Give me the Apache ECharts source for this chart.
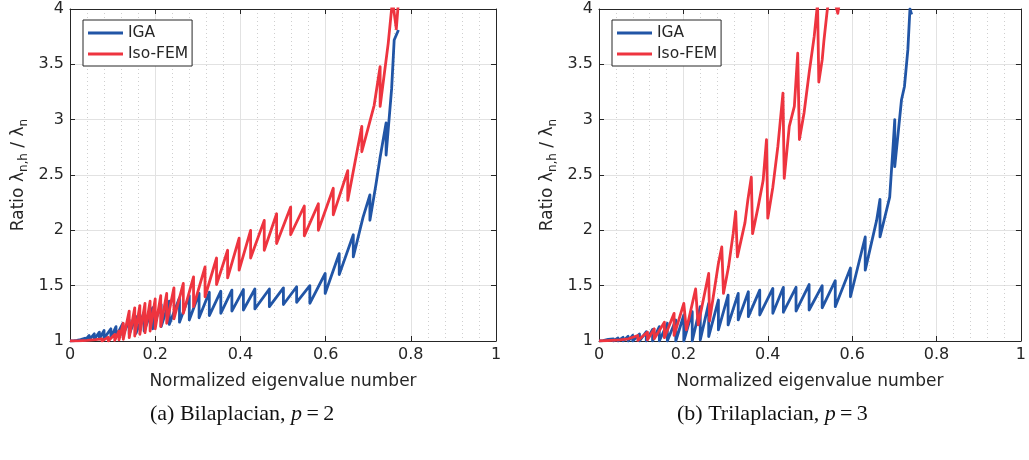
<!DOCTYPE html>
<html>
<head>
<meta charset="utf-8">
<script src="https://cdn.jsdelivr.net/npm/echarts@6.0.0/dist/echarts.min.js"></script>
<style>html,body{margin:0;padding:0;background:#fff}#c{width:1029px;height:460px}</style>
</head>
<body>
<div id="c"></div>
<script>
// ---------- tick labels ----------
const xTickLabels = ['0', '0.2', '0.4', '0.6', '0.8', '1'];
const yTickLabels = ['1', '1.5', '2', '2.5', '3', '3.5', '4'];
const seriesNames = ['IGA', 'Iso-FEM'];
const captions = ['(a) Bilaplacian, ', '(b) Trilaplacian, '];
const captionP = ['\u2009=\u20092', '\u2009=\u20093'];

// ---------- (a) Bilaplacian, p = 2 : IGA ----------
const igaA_x = [0,
  0.008,0.008,0.016,0.016,0.025,0.025,0.035,0.035,0.045,0.045,0.057,0.057,0.069,0.069,0.080,0.080,
  0.096,0.096,0.108,0.108,0.124,0.124,0.139,0.139,0.155,0.155,0.174,0.174,0.194,0.194,0.214,0.214,
  0.233,0.233,0.257,0.257,0.280,0.280,0.303,0.303,0.327,0.327,0.354,0.354,0.380,0.380,0.407,0.407,
  0.434,0.434,0.468,0.468,0.501,0.501,0.532,0.532,0.563,0.563,0.599,0.599,0.632,0.632,0.665,0.665,
  0.688,0.704,0.704,0.718,0.728,0.742,0.742,0.755,0.761,0.771];
const igaA_y = [1,
  1.002,1.0,1.006,1.0,1.012,1.0,1.025,1.005,1.05,1.01,1.065,1.015,1.08,1.02,1.095,1.025,
  1.11,1.03,1.13,1.04,1.16,1.05,1.19,1.06,1.22,1.07,1.26,1.09,1.30,1.11,1.33,1.13,
  1.36,1.15,1.39,1.17,1.41,1.19,1.43,1.21,1.44,1.23,1.45,1.25,1.46,1.27,1.465,1.28,
  1.47,1.29,1.47,1.31,1.48,1.33,1.49,1.35,1.50,1.34,1.61,1.43,1.79,1.60,1.96,1.76,
  2.12,2.32,2.09,2.41,2.66,2.97,2.68,3.28,3.72,3.81];

// ---------- (a) Bilaplacian, p = 2 : Iso-FEM ----------
const femA_x = [0,
  0.02,0.02,0.04,0.04,0.06,0.06,0.075,0.075,0.09,0.09,0.105,0.105,0.115,0.115,0.125,0.125,
  0.139,0.139,0.152,0.152,0.164,0.164,0.176,0.176,0.188,0.188,0.200,0.200,0.213,0.213,0.227,0.227,
  0.244,0.244,0.266,0.266,0.290,0.290,0.317,0.317,0.344,0.344,0.370,0.370,0.397,0.397,0.424,0.424,
  0.456,0.456,0.485,0.485,0.518,0.518,0.550,0.550,0.583,0.583,0.618,0.618,0.652,0.652,0.685,0.685,
  0.714,0.728,0.728,0.747,0.757,0.766,0.772];
const femA_y = [1,
  1.002,1.0,1.006,1.0,1.012,1.0,1.02,1.0,1.035,1.0,1.06,1.005,1.09,1.01,1.16,1.015,
  1.27,1.03,1.30,1.045,1.32,1.06,1.34,1.075,1.36,1.09,1.38,1.11,1.41,1.13,1.43,1.16,
  1.48,1.20,1.52,1.25,1.58,1.31,1.67,1.40,1.75,1.51,1.82,1.57,1.93,1.64,2.00,1.75,
  2.09,1.82,2.15,1.88,2.21,1.96,2.22,1.95,2.24,2.00,2.38,2.14,2.54,2.27,2.94,2.71,
  3.13,3.48,3.12,3.69,4.08,3.82,4.12];

// ---------- (b) Trilaplacian, p = 3 : IGA ----------
const igaB_x = [0,
  0.010,0.010,0.022,0.022,0.034,0.034,0.045,0.045,0.057,0.057,0.069,0.069,0.080,0.080,0.096,0.096,
  0.112,0.112,0.127,0.127,0.143,0.143,0.162,0.162,0.182,0.182,0.201,0.201,0.221,0.221,0.240,0.240,
  0.260,0.260,0.283,0.283,0.306,0.306,0.330,0.330,0.354,0.354,0.381,0.381,0.412,0.412,0.437,0.437,
  0.467,0.467,0.498,0.498,0.529,0.529,0.560,0.560,0.596,0.596,0.631,0.631,0.658,0.666,0.666,
  0.689,0.697,0.701,0.701,0.717,0.724,0.732,0.737,0.741];
const igaB_y = [1,
  1.003,1.0,1.015,1.0,1.02,1.0,1.027,1.0,1.033,1.0,1.042,1.0,1.051,1.0,1.063,1.0,
  1.084,1.0,1.105,1.0,1.13,1.0,1.16,1.0,1.19,1.0,1.235,1.0,1.265,1.0,1.31,1.01,
  1.34,1.04,1.37,1.10,1.415,1.145,1.43,1.19,1.445,1.22,1.46,1.235,1.475,1.25,1.485,1.26,
  1.485,1.27,1.51,1.28,1.50,1.30,1.545,1.31,1.66,1.40,1.94,1.64,2.09,2.28,1.94,
  2.30,2.76,3.0,2.575,3.18,3.30,3.63,4.0,3.95];

// ---------- (b) Trilaplacian, p = 3 : Iso-FEM ----------
const femB_x = [0,
  0.03,0.03,0.05,0.05,0.07,0.07,0.092,0.092,0.115,0.115,0.131,0.131,0.155,0.155,0.178,0.178,
  0.201,0.207,0.229,0.235,0.260,0.262,0.283,0.291,0.295,0.307,0.318,0.324,0.328,
  0.346,0.353,0.361,0.364,0.377,0.389,0.397,0.400,0.412,0.424,0.436,0.439,
  0.451,0.463,0.471,0.475,0.486,0.498,0.510,0.518,0.521,0.529,0.533,0.541,0.550,0.566,0.575];
const femB_y = [1,
  1.005,1.0,1.01,1.0,1.02,1.005,1.05,1.005,1.08,1.01,1.11,1.02,1.17,1.03,1.25,1.05,
  1.34,1.10,1.47,1.145,1.61,1.18,1.70,1.85,1.43,1.67,1.97,2.17,1.76,
  2.07,2.28,2.48,1.97,2.21,2.45,2.82,2.11,2.39,2.76,3.24,2.47,
  2.94,3.12,3.60,2.82,3.06,3.42,3.75,4.05,3.34,3.54,3.71,3.99,4.2,3.96,4.2];

// ---------- styling ----------
const AX = '#262626';
const FONT = 'DejaVu Sans';
const BLUE = '#2155a6';
const RED = '#ee343f';
const grids = [
  {left: 70, top: 9, width: 426, height: 332},
  {left: 599, top: 9, width: 426, height: 332}
];

function pts(xs, ys) { return xs.map((x, i) => [x, ys[i]]); }

const xAxes = [], yAxes = [];
grids.forEach((g, gi) => {
  xAxes.push({
    type: 'value', gridIndex: gi, min: 0, max: 1, interval: 0.2, position: 'bottom',
    axisLine: {show: true, onZero: false, lineStyle: {color: AX, width: 1}},
    axisTick: {show: true, inside: true, length: 5, lineStyle: {color: AX}},
    axisLabel: {color: AX, fontFamily: FONT, fontSize: 16, margin: 6,
      formatter: v => xTickLabels[Math.round(v / 0.2)]},
    splitLine: {show: true, lineStyle: {color: '#e2e2e2', width: 1}},
    minorTick: {show: false, splitNumber: 5},
    minorSplitLine: {show: true, lineStyle: {color: '#cfcfcf', width: 1, type: [1, 3]}},
    name: 'Normalized eigenvalue number', nameLocation: 'middle', nameGap: 32,
    nameTextStyle: {color: AX, fontFamily: FONT, fontSize: 17}
  });
  xAxes.push({
    type: 'value', gridIndex: gi, min: 0, max: 1, interval: 0.2, position: 'top',
    axisLine: {show: true, onZero: false, lineStyle: {color: AX, width: 1}},
    axisTick: {show: true, inside: true, length: 5, lineStyle: {color: AX}},
    axisLabel: {show: false}, splitLine: {show: false}
  });
  yAxes.push({
    type: 'value', gridIndex: gi, min: 1, max: 4, interval: 0.5, position: 'left',
    axisLine: {show: true, onZero: false, lineStyle: {color: AX, width: 1}},
    axisTick: {show: true, inside: true, length: 5, lineStyle: {color: AX}},
    axisLabel: {color: AX, fontFamily: FONT, fontSize: 16, margin: 6,
      formatter: v => yTickLabels[Math.round((v - 1) / 0.5)]},
    splitLine: {show: true, lineStyle: {color: '#e2e2e2', width: 1}},
    name: '{a|Ratio λ}{s|n,h}{a| / λ}{s|n}', nameLocation: 'middle', nameGap: 40,
    nameTextStyle: {
      color: AX, fontFamily: FONT, fontSize: 17,
      rich: {
        a: {color: AX, fontFamily: FONT, fontSize: 17, lineHeight: 20, verticalAlign: 'top'},
        s: {color: AX, fontFamily: FONT, fontSize: 12, lineHeight: 20, verticalAlign: 'bottom'}
      }
    }
  });
  yAxes.push({
    type: 'value', gridIndex: gi, min: 1, max: 4, interval: 0.5, position: 'right',
    axisLine: {show: true, onZero: false, lineStyle: {color: AX, width: 1}},
    axisTick: {show: true, inside: true, length: 5, lineStyle: {color: AX}},
    axisLabel: {show: false}, splitLine: {show: false}
  });
});

function lineSeries(name, color, xi, yi, data) {
  return {
    type: 'line', name: name, xAxisIndex: xi, yAxisIndex: yi, data: data,
    symbol: 'none', showSymbol: false, smooth: false, clip: true, animation: false,
    lineStyle: {color: color, width: 2.8, join: 'round'}, itemStyle: {color: color}
  };
}

const legendCommon = {
  orient: 'vertical', data: seriesNames, icon: 'rect', itemWidth: 35, itemHeight: 3, itemGap: 5,
  backgroundColor: '#fff', borderColor: AX, borderWidth: 1, padding: [5, 4, 4, 5],
  textStyle: {color: AX, fontFamily: FONT, fontSize: 15.5, lineHeight: 14}, selectedMode: false
};

const option = {
  animation: false,
  backgroundColor: '#fff',
  grid: grids.map(g => Object.assign({containLabel: false, show: false}, g)),
  xAxis: xAxes,
  yAxis: yAxes,
  legend: [
    Object.assign({left: 83, top: 20}, legendCommon),
    Object.assign({left: 612, top: 20}, legendCommon)
  ],
  series: [
    lineSeries(seriesNames[0], BLUE, 0, 0, pts(igaA_x, igaA_y)),
    lineSeries(seriesNames[1], RED, 0, 0, pts(femA_x, femA_y)),
    lineSeries(seriesNames[0], BLUE, 2, 2, pts(igaB_x, igaB_y)),
    lineSeries(seriesNames[1], RED, 2, 2, pts(femB_x, femB_y))
  ],
  graphic: [0, 1].map(i => ({
    type: 'text', left: [150, 677][i], top: 403,
    style: {
      text: '{r|' + captions[i] + '}{it|p}{r|' + captionP[i] + '}',
      rich: {
        r: {fontFamily: 'Liberation Serif', fontSize: 22, fill: '#111'},
        it: {fontFamily: 'Liberation Serif', fontSize: 22, fontStyle: 'italic', fill: '#111'}
      }
    }
  }))
};

const chart = echarts.init(document.getElementById('c'));
chart.setOption(option);
</script>
</body>
</html>
